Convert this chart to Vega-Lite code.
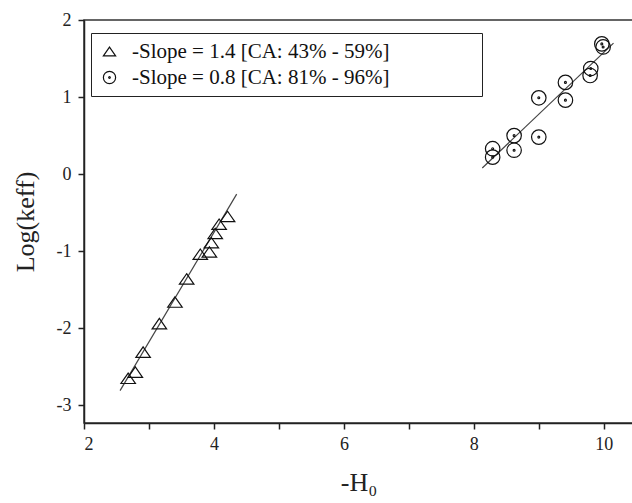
{
  "$schema": "https://vega.github.io/schema/vega-lite/v6.json",
  "width": 549,
  "height": 403,
  "autosize": "none",
  "padding": {"left": 84, "top": 20, "right": 0, "bottom": 80},
  "background": "white",
  "config": {
    "font": "Liberation Serif",
    "view": {"stroke": "#333", "strokeWidth": 1.5},
    "axis": {
      "grid": false,
      "domainColor": "#222",
      "domainWidth": 1.5,
      "tickColor": "#222",
      "tickWidth": 1.5,
      "tickSize": 6,
      "labelFont": "Liberation Serif",
      "labelFontSize": 18,
      "labelColor": "#222",
      "titleFont": "Liberation Serif",
      "titleFontWeight": "normal",
      "titleColor": "#222"
    }
  },
  "datasets": {
    "pts": [
      {"H": 2.68, "logk": -2.65, "series": "-Slope = 1.4 [CA: 43% - 59%]"},
      {"H": 2.79, "logk": -2.57, "series": "-Slope = 1.4 [CA: 43% - 59%]"},
      {"H": 2.91, "logk": -2.31, "series": "-Slope = 1.4 [CA: 43% - 59%]"},
      {"H": 3.16, "logk": -1.94, "series": "-Slope = 1.4 [CA: 43% - 59%]"},
      {"H": 3.40, "logk": -1.66, "series": "-Slope = 1.4 [CA: 43% - 59%]"},
      {"H": 3.58, "logk": -1.36, "series": "-Slope = 1.4 [CA: 43% - 59%]"},
      {"H": 3.79, "logk": -1.04, "series": "-Slope = 1.4 [CA: 43% - 59%]"},
      {"H": 3.93, "logk": -1.01, "series": "-Slope = 1.4 [CA: 43% - 59%]"},
      {"H": 3.96, "logk": -0.89, "series": "-Slope = 1.4 [CA: 43% - 59%]"},
      {"H": 4.02, "logk": -0.77, "series": "-Slope = 1.4 [CA: 43% - 59%]"},
      {"H": 4.08, "logk": -0.65, "series": "-Slope = 1.4 [CA: 43% - 59%]"},
      {"H": 4.21, "logk": -0.55, "series": "-Slope = 1.4 [CA: 43% - 59%]"},
      {"H": 8.29, "logk": 0.33, "series": "-Slope = 0.8 [CA: 81% - 96%]"},
      {"H": 8.29, "logk": 0.22, "series": "-Slope = 0.8 [CA: 81% - 96%]"},
      {"H": 8.62, "logk": 0.50, "series": "-Slope = 0.8 [CA: 81% - 96%]"},
      {"H": 8.62, "logk": 0.31, "series": "-Slope = 0.8 [CA: 81% - 96%]"},
      {"H": 9.00, "logk": 0.99, "series": "-Slope = 0.8 [CA: 81% - 96%]"},
      {"H": 9.00, "logk": 0.48, "series": "-Slope = 0.8 [CA: 81% - 96%]"},
      {"H": 9.41, "logk": 1.19, "series": "-Slope = 0.8 [CA: 81% - 96%]"},
      {"H": 9.41, "logk": 0.96, "series": "-Slope = 0.8 [CA: 81% - 96%]"},
      {"H": 9.80, "logk": 1.37, "series": "-Slope = 0.8 [CA: 81% - 96%]"},
      {"H": 9.79, "logk": 1.28, "series": "-Slope = 0.8 [CA: 81% - 96%]"},
      {"H": 9.97, "logk": 1.69, "series": "-Slope = 0.8 [CA: 81% - 96%]"},
      {"H": 9.99, "logk": 1.65, "series": "-Slope = 0.8 [CA: 81% - 96%]"}
    ],
    "fits": [
      {"H": 2.555, "logk": -2.81, "fit": "a"},
      {"H": 4.35, "logk": -0.26, "fit": "a"},
      {"H": 8.13, "logk": 0.08, "fit": "b"},
      {"H": 10.15, "logk": 1.70, "fit": "b"}
    ]
  },
  "layer": [
    {
      "data": {"name": "fits"},
      "mark": {"type": "line", "stroke": "#444", "strokeWidth": 1.2, "clip": true},
      "encoding": {
        "x": {"field": "H", "type": "quantitative"},
        "y": {"field": "logk", "type": "quantitative"},
        "detail": {"field": "fit"}
      }
    },
    {
      "data": {"name": "pts"},
      "mark": {"type": "point", "filled": false, "stroke": "#111", "strokeWidth": 1.2, "opacity": 1},
      "encoding": {
        "x": {
          "field": "H", "type": "quantitative",
          "scale": {"domain": [2, 10.45], "nice": false, "zero": false},
          "axis": {
            "values": [2, 3, 4, 5, 6, 7, 8, 9, 10],
            "labelFont": "Liberation Serif",
            "labelExpr": "datum.value % 2 == 0 ? format(datum.value, 'd') : ''",
            "labelPadding": 6,
            "title": "-H₀",
            "titleFontSize": 26,
            "titlePadding": 16
          }
        },
        "y": {
          "field": "logk", "type": "quantitative",
          "scale": {"domain": [-3.23, 2], "nice": false, "zero": false},
          "axis": {
            "values": [-3, -2, -1, 0, 1, 2],
            "labelFont": "Liberation Serif",
            "labelExpr": "replace(format(datum.value, 'd'), '−', '-')",
            "labelPadding": 7,
            "title": "Log(keff)",
            "titleFontSize": 26,
            "titlePadding": 18
          }
        },
        "shape": {
          "field": "series", "type": "nominal",
          "sort": ["-Slope = 1.4 [CA: 43% - 59%]", "-Slope = 0.8 [CA: 81% - 96%]"],
          "scale": {
            "domain": ["-Slope = 1.4 [CA: 43% - 59%]", "-Slope = 0.8 [CA: 81% - 96%]"],
            "range": ["M0,-0.72L1,0.72L-1,0.72Z", "M-1,0A1,1,0,1,1,1,0A1,1,0,1,1,-1,0ZM-0.13,0A0.13,0.13,0,1,1,0.13,0A0.13,0.13,0,1,1,-0.13,0Z"]
          },
          "legend": {
            "title": null,
            "orient": "none",
            "legendX": 7,
            "legendY": 13,
            "strokeColor": "#222",
            "padding": 8,
            "rowPadding": 4,
            "labelFont": "Liberation Serif",
            "labelFontSize": 21,
            "labelColor": "#111",
            "labelOffset": 12,
            "labelLimit": 500,
            "labelExpr": "datum.label + '\u00a0\u00a0\u00a0\u00a0\u00a0\u00a0\u00a0\u00a0\u00a0\u00a0\u00a0\u00a0\u00a0\u00a0\u00a0\u00a0\u200b'",
            "symbolSize": 150,
            "symbolStrokeColor": "#111",
            "symbolStrokeWidth": 1.2,
            "symbolFillColor": "transparent",
            "symbolOffset": 0
          }
        },
        "size": {"value": 210}
      }
    }
  ]
}
